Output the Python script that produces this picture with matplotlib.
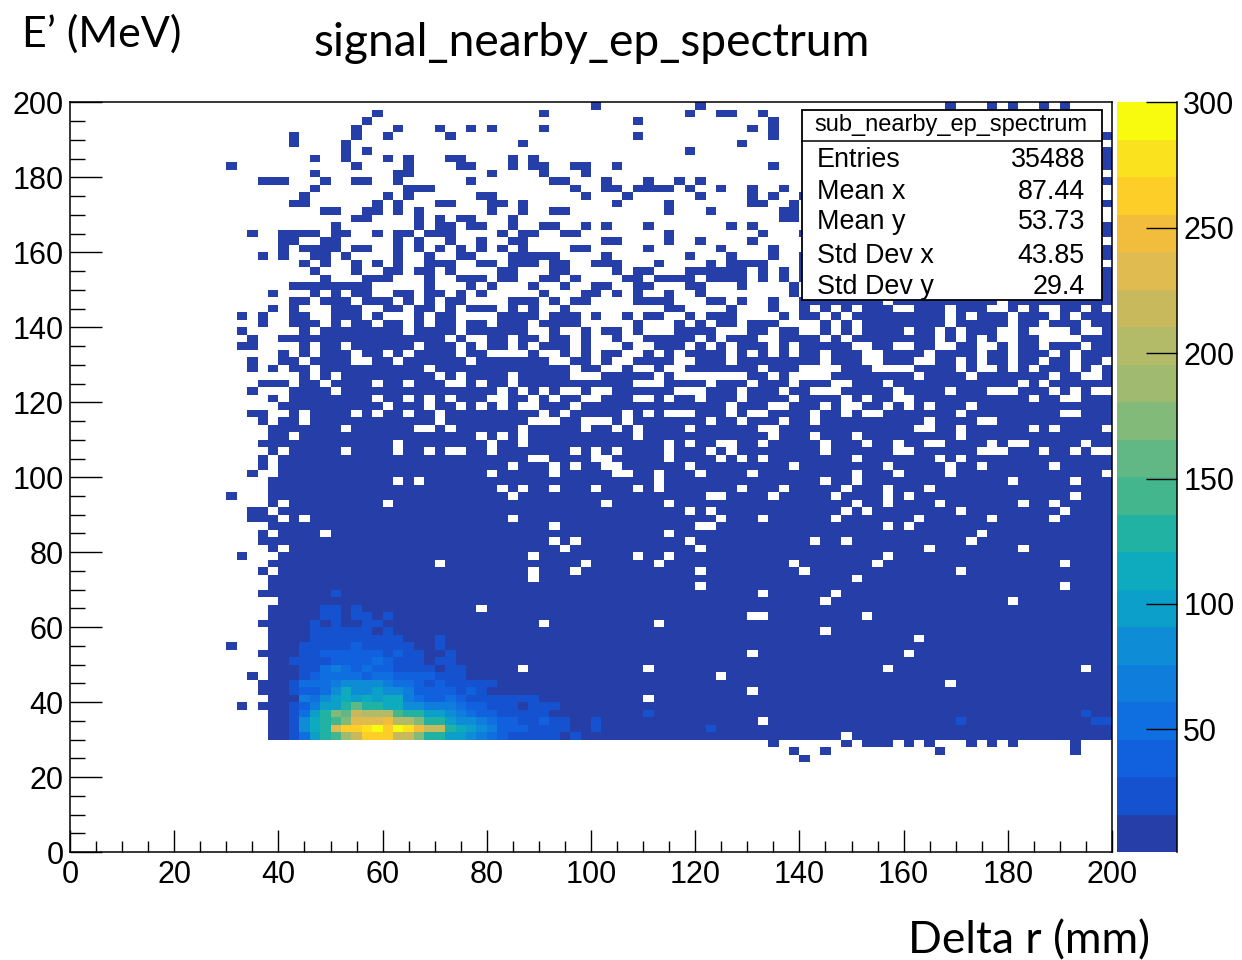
import numpy as np
import matplotlib
matplotlib.use("Agg")
import matplotlib.pyplot as plt
from matplotlib.colors import ListedColormap, BoundaryNorm
from matplotlib.patches import Rectangle
from matplotlib.lines import Line2D

plt.rcParams['font.family'] = ['Liberation Sans', 'DejaVu Sans']

TITLE = "signal_nearby_ep_spectrum"
X_LABEL = "Delta r (mm)"
Y_LABEL = "E\u2019 (MeV)"
X_TICKS = [0, 20, 40, 60, 80, 100, 120, 140, 160, 180, 200]
Y_TICKS = [0, 20, 40, 60, 80, 100, 120, 140, 160, 180, 200]
Z_TICKS = [50, 100, 150, 200, 250, 300]
STAT_TITLE = "sub_nearby_ep_spectrum"
STAT_NAMES = ["Entries", "Mean x", "Mean y", "Std Dev x", "Std Dev y"]
STAT_VALUES = ["35488", "87.44", "53.73", "43.85", "29.4"]
N_BINS = 100
BASE_COUNT = 8
BAND_COLORS = ["#263fa8", "#1552cf", "#1160de", "#0f6ee0", "#0f7ddc", "#0f8cd6", "#0c9fca", "#0eaabd",
               "#22b2a4", "#43b68e", "#62b884", "#82ba7a", "#a0bb70", "#b4bb68", "#c8b95c", "#e0bb50",
               "#f2bc3c", "#fdcd28", "#fae31e", "#f9fb0e"]

# Occupied bins per row, top row first: "a-b" run, "n" single bin, "!n" empty hole
OCCUPIED_ROWS = [
    "50 60 84 88 90 93 95",
    "29 45 59 62 63 66",
    "28 54 67",
    "27 31 35 38 40 45 65 67",
    "21 27 30 36 54 67 99",
    "21 26 43 64",
    "26 28 59 99",
    "23 26 30 32 36 37 42 44 99",
    "15 27 32 37 38 42 44 45 48 49 52 67 99",
    "23 31 32 40 45 49",
    "18-20 24 27 28 31 38 46 47 51 55 58 60 99",
    "23 32-34 48 51 52 54-57 59 62 65 68",
    "22 30 32 39 40 49 53 60 65 67 70",
    "21 22 29 31 35 36 40 41 43 52 57 65 66 69 99",
    "24 25 28 29 31 33 40 43 46 47 57 61 68 69",
    "27 28 33 35 37 38 42 68 69",
    "25 33 35 36 38 39 42 45 46 49 51 55 63 65 99",
    "17 20-23 25 26 29 31 32 34-36 41 43 44 47 48 57 66 70 99",
    "20 21 24 25 31 33 36 39 42 43 51 52 57 60 65",
    "20 22-25 27 28 31 33 35 37 39 41 43 48 49 55 62 67 99",
    "18 20 23 24 26 31 34 37 38 42-46 51 59 63 67 70 99",
    "22 24 27 29 31 34-36 39 40 42-44 46 47 50-52 56 61 63-66 70",
    "23 27 30 31 33 34 36 41 42 46 47 52 54 55 59-64 66 68 70 99",
    "24 28-30 34 37-39 41 42 45 46 48 53 54 56-59 61-64 66 68 70 99",
    "21-28 34 38 40 44 47 50 51 54 55 59 60 64 69 99",
    "19 23 25 27 28 31 32 34 35 37 39 45 49 50 52 54 57 60 69 99",
    "21 22 24-26 28-30 32 34 36 37 42-44 46 48 49 54-57 61 62 64 67 70-99 !78 !89",
    "19 21 25-27 30 31 33 34 36 38-40 42 44 47 57 58 63 67 70-99 !71 !73 !75 !79 !80 !84 !88 !89 !91 !93 !94 !97 !99",
    "16 18 21 22 25-27 29 33 35 36 41-44 46-48 50 53 55 56 59 61-63 68 70-99 !72 !74 !84 !86 !90 !94 !96",
    "18 21-23 25 27 28 30 31 33 35 36 38 39 41-43 45-48 54 58 60 62 63 65-67 70-99 !70 !71 !73 !75 !84 !90 !93 !97",
    "16 22 24-31 33-36 38-43 46 49 51 52 54 58-61 65 66 68 69 70-99 !70 !71 !73 !75 !80 !83 !85 !89 !90 !92-95 !97 !98",
    "17 20-35 37 40 41 43 44 46 47 49 52 55-59 61 63-65 68-99 !72 !74 !83 !85 !87 !89 !90 !93-96",
    "16 17 22 24 25 27-32 34-36 38 40 41 43 45-99 !48 !50-52 !54 !55 !59 !61 !63 !67 !69 !75 !76 !79 !80 !83 !84 !87 !88 !90 !93 !97",
    "20 22 24-26 28 29 31 33-36 38 39 44 47 49 51 52 55 57 59-62 64 66 68 70-99 !72 !76 !77 !82 !87 !90 !94 !96",
    "17 20 21 23-26 29 30 32-37 39-99 !46 !47 !50 !52 !53 !58 !59 !63 !72 !76 !77 !81 !82 !85 !87 !90 !93 !96 !99",
    "17 19 21 22 24-33 35-99 !48 !51 !52 !54 !55 !57 !58 !66 !70-73 !77-80 !85 !87 !88 !90 !92 !96 !98",
    "22 24 26-34 36 38-41 43-99 !48-50 !56 !58-64 !67 !69-72 !81 !86 !94 !97 !98",
    "18-20 22 23 25-28 30 31 33-35 38 40 41 43-99 !54-56 !61 !65 !69 !73 !74 !78 !91 !93",
    "17 21-24 26-40 42 44-99 !45 !47 !48 !50 !51 !58-60 !64 !68 !71-73 !79 !84 !88-90 !94 !96 !98 !99",
    "19 21-28 30 31 33 35 37-39 42 43 45-99 !46 !49 !50 !54 !55 !57 !60 !64 !69 !74 !76 !79 !80 !92 !95 !96",
    "20-29 31-33 35 36 38 40 42 45-99 !48 !63 !67 !68 !72 !74 !75 !78 !80 !82 !86",
    "17 18 21 23-26 28 30 31 33 34 36-99 !45 !47 !53 !55 !57-59 !63 !65 !66 !71 !74 !76 !77 !85 !95 !96",
    "18 20 21 23-34 36-43 47-99 !49-51 !53 !61 !64 !68 !71 !82 !87 !88",
    "19-25 27-32 35 37-42 44-99 !49 !52 !54 !59 !66 !67 !81 !82 !85 !92 !94 !99",
    "19 20 22-38 40 42 44-99 !54 !67 !71 !75 !85",
    "18-30 32-39 41 42 44-99 !57 !59 !62 !63 !66 !72 !76 !79 !82 !83 !88 !90 !91 !97",
    "19 21-25 27-30 32 33 35 38 39 41-99 !48 !50 !52 !57 !61 !63 !72 !79 !80 !87-89 !93 !96 !98 !99",
    "18 20-43 46-99 !50 !51 !57 !62 !64 !66 !75 !83 !85",
    "18 20-41 43-99 !46 !48 !51 !52 !59 !69 !78 !84 !87 !94",
    "17 20-39 41-99 !46 !52 !53 !56 !60 !65 !75 !79 !84 !99",
    "19-30 32 34-99 !56 !72 !75 !90 !96",
    "19-40 42 44-99 !46 !50 !54 !56 !64 !68 !74 !78 !82",
    "15 19-41 43-99 !61 !62 !67 !73 !78 !80 !96",
    "19 21-29 31-99 !51 !57 !75 !78 !83 !91 !94",
    "17 18 20-99 !59 !61 !74 !76 !85 !95",
    "17-19 21 23-41 43-99 !62 !66 !73 !81 !88 !94",
    "19-99 !46 !60 !61 !78 !80",
    "18 20-23 25-99 !57 !87",
    "18-99 !46 !48 !59 !71 !74 !86",
    "19 21-99 !47 !60 !82 !91",
    "16 20-43 45-99 !54 !57 !78",
    "19-34 36-99 !49 !56 !69 !77 !95",
    "18 20-43 45-99 !48 !60 !70 !85",
    "19-43 45-99 !75",
    "19-99 !60 !95",
    "18-99 !66 !73",
    "20-99 !72 !90",
    "19-99 !39",
    "19-99 !65 !66 !76",
    "18-99 !45 !56",
    "19-99 !72",
    "19-99 !81",
    "15 19-99",
    "18-99 !65 !80",
    "19-99",
    "19-99 !43 !55 !78 !97",
    "17 19-99 !62",
    "18-99 !84",
    "18-99 !65",
    "19-99 !55",
    "16 18-99",
    "19-99",
    "19-99 !66",
    "19-99",
    "19-99 !74",
    "67 74 76-78 80 82 86 88 90 96",
    "69 72 83 96",
    "70",
]

# Bin contents of the peak: (row from top, first bin, counts)
HOT_ROWS = [
    (65, 25, [23]),
    (67, 24, [23, 23, 8, 23]),
    (68, 24, [23, 23, 8, 23, 23, 8, 23]),
    (69, 23, [23, 8, 23, 8, 8, 23, 23]),
    (70, 23, [23, 23, 23, 23, 23, 23, 8, 23]),
    (71, 23, [23, 23, 23, 23, 23, 23, 23, 23, 23, 8, 8, 8, 23]),
    (72, 22, [23, 23, 23, 23, 23, 38, 23, 23, 23, 23, 23, 8, 8, 23]),
    (73, 22, [23, 23, 38, 38, 38, 38, 38, 38, 23, 38, 23, 23, 8, 8, 23]),
    (74, 21, [23, 23, 23, 23, 38, 38, 38, 38, 53, 38, 23, 23, 23, 8, 23, 23]),
    (75, 22, [23, 23, 53, 68, 53, 38, 53, 38, 38, 23, 23, 23, 23, 8, 23, 23]),
    (76, 22, [23, 38, 53, 53, 53, 53, 38, 53, 53, 38, 38, 38, 38, 23, 23, 23]),
    (77, 21, [23, 53, 53, 53, 68, 83, 83, 83, 83, 68, 53, 53, 38, 23, 38, 23, 23, 23, 23, 23]),
    (78, 21, [23, 38, 38, 53, 83, 113, 83, 83, 98, 83, 83, 68, 38, 38, 38, 38, 23, 38, 23]),
    (79, 22, [68, 53, 83, 98, 113, 98, 113, 98, 113, 113, 68, 53, 38, 38, 53, 38, 23, 23, 23, 23, 23, 23, 23]),
    (80, 21, [23, 38, 68, 98, 98, 128, 158, 128, 128, 113, 113, 83, 83, 68, 68, 68, 53, 38, 38, 23, 23, 23, 8, 23, 23, 23]),
    (81, 21, [23, 53, 98, 128, 173, 158, 218, 203, 203, 203, 143, 128, 128, 98, 98, 83, 68, 53, 38, 38, 23, 23, 23, 23, 23]),
    (82, 21, [23, 83, 113, 128, 143, 173, 233, 233, 233, 248, 203, 203, 173, 128, 128, 98, 83, 83, 68, 53, 38, 38, 23, 23, 38, 23, 23, 8, 8, 23]),
    (83, 21, [23, 83, 113, 128, 233, 263, 263, 278, 293, 263, 293, 278, 248, 218, 218, 128, 113, 98, 83, 68, 38, 38, 38, 23, 23, 23, 23, 8, 8, 23]),
    (84, 21, [23, 53, 98, 128, 143, 188, 218, 263, 263, 263, 218, 218, 173, 128, 128, 98, 98, 83, 68, 53, 38, 23, 23, 23, 23, 23, 8, 23]),
    (81, 55, [23]),
    (83, 61, [23]),
    (81, 97, [23]),
    (82, 85, [23]),
    (82, 98, [23, 23]),
]


def expand(spec):
    bins = set()
    holes = set()
    for token in spec.split():
        target = holes if token.startswith("!") else bins
        token = token.lstrip("!")
        if "-" in token:
            a, b = token.split("-")
            target.update(range(int(a), int(b) + 1))
        else:
            target.add(int(token))
    return sorted(bins - holes)


counts = np.zeros((N_BINS, N_BINS))
for row, spec in enumerate(OCCUPIED_ROWS):
    counts[N_BINS - 1 - row, expand(spec)] = BASE_COUNT
for row, first, values in HOT_ROWS:
    counts[N_BINS - 1 - row, first:first + len(values)] = values

W, H = 1242, 960
fig = plt.figure(figsize=(W / 100, H / 100), dpi=100)


def frac_axes(x0, y0, x1, y1):
    return fig.add_axes([x0 / W, 1 - y1 / H, (x1 - x0) / W, (y1 - y0) / H])


ax = frac_axes(70, 102.5, 1112, 852)
edges = np.linspace(0, 200, N_BINS + 1)
cmap = ListedColormap(BAND_COLORS)
levels = np.linspace(1, 300, len(BAND_COLORS) + 1)
norm = BoundaryNorm(levels, cmap.N)
mesh = ax.pcolormesh(edges, edges, np.ma.masked_equal(counts, 0), cmap=cmap, norm=norm,
                     linewidth=0, rasterized=True)
ax.set_xlim(0, 200)
ax.set_ylim(0, 200)
ax.set_xticks(X_TICKS)
ax.set_yticks(Y_TICKS)
ax.set_xticks(np.arange(0, 201, 5), minor=True)
ax.set_yticks(np.arange(0, 201, 5), minor=True)
ax.tick_params(axis='x', which='major', direction='in', length=16, width=1.0, labelsize=22, pad=6)
ax.tick_params(axis='x', which='minor', direction='in', length=8, width=1.0)
ax.tick_params(axis='y', which='major', direction='in', length=23, width=1.0, labelsize=22, pad=4.5)
ax.tick_params(axis='y', which='minor', direction='in', length=11, width=1.0)
for spine in ax.spines.values():
    spine.set_linewidth(1.1)

cax = frac_axes(1117, 102.5, 1177, 852)
cb = fig.colorbar(mesh, cax=cax, spacing='proportional', drawedges=False)
cb.outline.set_visible(False)
cb.set_ticks(Z_TICKS)
cb.minorticks_off()
cax.tick_params(axis='y', which='major', direction='in', length=22, width=1.0, labelsize=22, pad=4.5,
                left=False, right=True)
cax.add_line(Line2D([1, 1], [0, 1], transform=cax.transAxes, color='black', lw=1.1, clip_on=False))

# Statistics box
px = lambda x, y: (x / W, 1 - y / H)
box_x, box_y = px(802, 300)
fig.add_artist(Rectangle((box_x, box_y), 300 / W, 190 / H, transform=fig.transFigure, facecolor='white',
                         edgecolor='black', linewidth=1.3, zorder=5))
fig.add_artist(Line2D([802 / W, 1102 / W], [1 - 141 / H] * 2, transform=fig.transFigure, color='black',
                      lw=1.1, zorder=6))
fig.text(*px(951, 125), STAT_TITLE, ha='center', va='center', fontsize=17, zorder=7)
stat_rows = [160, 192, 222, 256, 287]
for name, value, y in zip(STAT_NAMES, STAT_VALUES, stat_rows):
    fig.text(*px(817, y), name, ha='left', va='center', fontsize=19.4, zorder=7)
    fig.text(*px(1085, y), value, ha='right', va='center', fontsize=19.4, zorder=7)

# Titles
fig.text(*px(591.5, 43), TITLE, ha='center', va='center', fontsize=33.2, family=['Lato', 'DejaVu Sans'])
fig.text(*px(22, 34), Y_LABEL, ha='left', va='center', fontsize=31, family=['Lato', 'DejaVu Sans'])
fig.text(*px(1150, 941), X_LABEL, ha='right', va='center', fontsize=32, family=['Lato', 'DejaVu Sans'])

fig.savefig("out.png", dpi=100)
